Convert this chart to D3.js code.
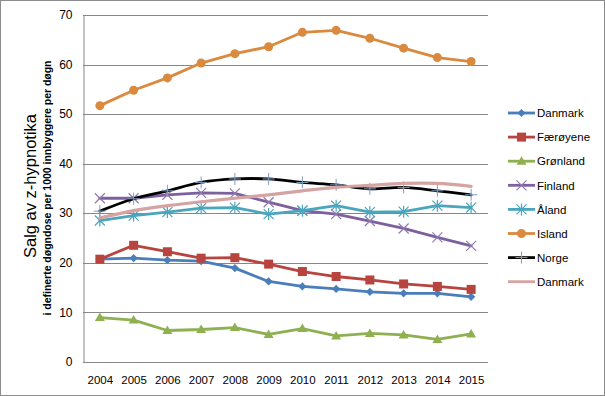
<!DOCTYPE html>
<html><head><meta charset="utf-8">
<script src="https://cdn.jsdelivr.net/npm/d3@7"></script>
<style>body{margin:0;background:#fff;}svg{display:block;}</style>
</head><body>
<svg id="c" width="605" height="396"></svg>
<script>
const years = ["2004","2005","2006","2007","2008","2009","2010","2011","2012","2013","2014","2015"];
const yTicks = [0,10,20,30,40,50,60,70];
const seriesNames = ["Danmark","Færøyene","Grønland","Finland","Åland","Island","Norge","Danmark"];
const danmark   = [20.7,20.9,20.5,20.3,18.9,16.2,15.2,14.7,14.1,13.8,13.8,13.1];
const faeroyene = [20.7,23.5,22.2,20.9,21.0,19.7,18.2,17.2,16.5,15.7,15.2,14.6];
const gronland  = [8.9,8.4,6.3,6.5,6.9,5.5,6.7,5.2,5.7,5.4,4.5,5.6];
const finland   = [33.0,33.0,33.7,34.1,34.0,32.2,30.5,29.8,28.4,26.9,25.1,23.4];
const aland     = [28.5,29.5,30.2,31.0,31.1,29.8,30.5,31.5,30.2,30.3,31.5,31.1];
const island    = [51.7,54.8,57.3,60.3,62.2,63.6,66.5,66.9,65.3,63.3,61.4,60.6];
const norge     = [30.4,32.9,34.5,36.2,36.9,36.9,36.2,35.7,34.9,35.2,34.5,33.7];
const danmark2  = [29.0,30.5,31.5,32.3,33.0,33.7,34.5,35.2,35.6,36.0,36.0,35.4];
const allValues = [danmark,faeroyene,gronland,finland,aland,island,norge,danmark2];
const colors  = ["#4A7EBB","#B8443F","#8FB050","#7D60A0","#4AA5BD","#DA8A3E","#000000","#D4A3A2"];
const markers = ["diamond","square","triangle","x","asterisk","circle","plus","none"];
const smooth  = [false,false,false,false,false,false,true,true];

const svg = d3.select("#c");
svg.append("rect").attr("x",0.5).attr("y",0.5).attr("width",604).attr("height",395)
  .attr("fill","#fff").attr("stroke","#8c8c8c");

const x = d3.scalePoint().domain(years).range([83,488]).padding(0.5);
const y = d3.scaleLinear().domain([0,70]).range([361.7,15]);

// gridlines
svg.append("g").selectAll("line").data(yTicks.filter(d=>d>0)).join("line")
  .attr("x1",83).attr("x2",488).attr("y1",d=>Math.round(y(d))+0.5).attr("y2",d=>Math.round(y(d))+0.5)
  .attr("stroke","#878787").attr("stroke-width",1);

// axes
const yAxis = svg.append("g").attr("transform","translate(83.5,0)")
  .call(d3.axisLeft(y).tickValues(yTicks).tickSize(0).tickPadding(11));
yAxis.select(".domain").attr("stroke","#878787");
yAxis.selectAll("text").attr("font-family","Liberation Sans, Arial, sans-serif").attr("font-size","12px").attr("fill","#000");

const xAxis = svg.append("g").attr("transform","translate(0,"+(Math.round(y(0))+0.5)+")")
  .call(d3.axisBottom(x).tickSize(0).tickPadding(13));
xAxis.select(".domain").attr("stroke","#878787").attr("d","M83,0H488");
xAxis.selectAll("text").attr("font-family","Liberation Sans, Arial, sans-serif").attr("font-size","11.5px").attr("fill","#000");

// axis titles
svg.append("text").attr("transform","translate(36,186) rotate(-90)")
  .attr("text-anchor","middle").attr("font-family","Liberation Sans, Arial, sans-serif")
  .attr("font-size","16.5px").attr("fill","#000").text("Salg av z-hypnotika");
svg.append("text").attr("transform","translate(51,188) rotate(-90)")
  .attr("text-anchor","middle").attr("font-family","Liberation Sans Narrow, Arial Narrow, sans-serif")
  .attr("font-weight","bold").attr("font-size","10.5px").attr("fill","#000")
  .attr("textLength",255).attr("lengthAdjust","spacingAndGlyphs")
  .text("i definerte døgndose per 1000 innbyggere per døgn");

function drawMarker(g, type, color, cx, cy) {
  const s = 3.6;
  if (type==="diamond") g.append("path").attr("d",`M${cx},${cy-s-0.5}L${cx+s+0.5},${cy}L${cx},${cy+s+0.5}L${cx-s-0.5},${cy}Z`).attr("fill",color);
  else if (type==="square") g.append("rect").attr("x",cx-4.5).attr("y",cy-4.5).attr("width",9).attr("height",9).attr("fill",color);
  else if (type==="triangle") g.append("path").attr("d",`M${cx},${cy-5}L${cx+5},${cy+3.5}L${cx-5},${cy+3.5}Z`).attr("fill",color);
  else if (type==="circle") g.append("circle").attr("cx",cx).attr("cy",cy).attr("r",4.5).attr("fill",color);
  else if (type==="x") g.append("path").attr("d",`M${cx-5},${cy-5}L${cx+5},${cy+5}M${cx-5},${cy+5}L${cx+5},${cy-5}`).attr("stroke","#8f7bb0").attr("stroke-width",1.2).attr("fill","none");
  else if (type==="asterisk") g.append("path").attr("d",`M${cx-5},${cy-5}L${cx+5},${cy+5}M${cx-5},${cy+5}L${cx+5},${cy-5}M${cx},${cy-6}L${cx},${cy+6}`).attr("stroke",color).attr("stroke-width",1.2).attr("fill","none");
  else if (type==="plus") g.append("path").attr("d",`M${cx-6},${cy}L${cx+6},${cy}M${cx},${cy-6}L${cx},${cy+6}`).attr("stroke","#7f9fc0").attr("stroke-width",1).attr("fill","none");
}

// series
allValues.forEach((vals,i)=>{
  const g = svg.append("g");
  const line = d3.line().x((d,j)=>x(years[j])).y(d=>y(d)).curve(smooth[i]?d3.curveCatmullRom.alpha(0.5):d3.curveLinear);
  g.append("path").datum(vals).attr("d",line).attr("fill","none").attr("stroke",colors[i])
    .attr("stroke-width",i===7?3.2:2.8).attr("stroke-linejoin","round").attr("stroke-linecap","round");
  vals.forEach((v,j)=>drawMarker(g, markers[i], colors[i], x(years[j]), y(v)));
});

// legend
const leg = svg.append("g");
seriesNames.forEach((n,i)=>{
  const ly = 113 + i*24.1;
  leg.append("line").attr("x1",508).attr("x2",535).attr("y1",ly).attr("y2",ly)
    .attr("stroke",colors[i]).attr("stroke-width",2.8);
  drawMarker(leg, markers[i], colors[i], 521.5, ly);
  leg.append("text").attr("x",537).attr("y",ly+4.2).attr("font-family","Liberation Sans, Arial, sans-serif")
    .attr("font-size","11.5px").attr("fill","#000").text(n);
});
</script>
</body></html>
